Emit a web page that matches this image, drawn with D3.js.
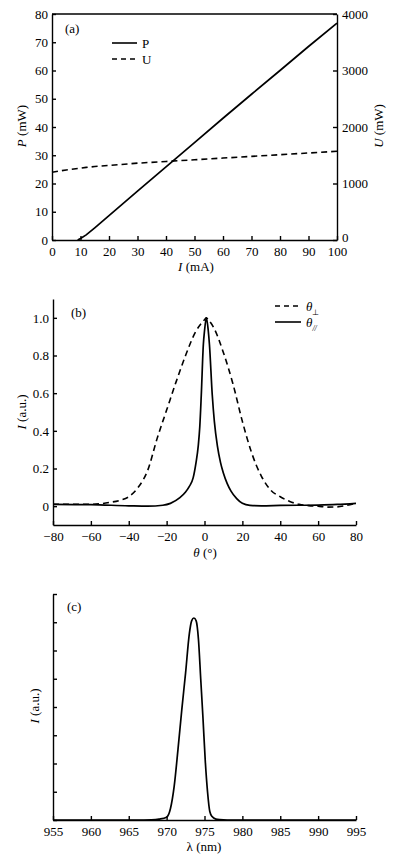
<!DOCTYPE html>
<html><head><meta charset="utf-8">
<script src="https://cdn.jsdelivr.net/npm/d3@7"></script>
<style>
body{margin:0;background:#fff;}
svg{display:block;font-family:"Liberation Serif","Times New Roman",serif;}
.tick text{font-size:13px;font-family:"Liberation Serif",serif;fill:#000;}
.domain,.tick line{stroke:#000;stroke-width:1.4px;}
</style></head><body>
<svg id="c" width="393" height="860"></svg>
<script>
// Panel (a)
const currentA = [0,5,9,10,12,15,20,30,40,50,60,70,80,90,100];
const powerP   = [null,null,0,0.5,1.8,4.3,8.6,17.3,25.9,34.5,43.1,51.6,60.0,68.5,76.8];
const voltageU = [1200,1240,1265,1270,1285,1300,1320,1360,1390,1420,1450,1480,1510,1540,1570];
const tickA_P = [0,10,20,30,40,50,60,70,80];
const tickA_U = [0,1000,2000,3000,4000];
const tickA_I = [0,10,20,30,40,50,60,70,80,90,100];

// Panel (b)
const thetaB = [-80,-70,-60,-50,-45,-40,-35,-30,-25,-20,-15,-10,-5,0,1,2,5,10,15,20,25,30,35,40,45,50,55,60,65,70,75,80];
const perpB  = [0.01,0.01,0.01,0.02,0.03,0.05,0.10,0.19,0.36,0.51,0.66,0.80,0.92,0.99,1.0,0.99,0.945,0.815,0.65,0.45,0.28,0.16,0.085,0.05,0.025,0.01,0.003,0.0,-0.005,-0.004,0.004,0.015];
const thetaPar = [-80,-60,-40,-30,-22,-18,-13,-10,-8,-6,-4.5,-3.3,-2.5,-1.7,-0.6,0,1,2,2.6,4.1,5.2,6.8,8.5,10,12,14,17,20,24,30,40,60,70,80];
const parB     = [0.01,0.008,0.002,0.0,0.005,0.015,0.045,0.075,0.105,0.15,0.23,0.32,0.42,0.59,0.86,0.93,1.0,0.93,0.86,0.59,0.45,0.32,0.23,0.175,0.12,0.08,0.04,0.015,0.004,0.002,0.004,0.006,0.009,0.015];
const tickB_I = [0,0.2,0.4,0.6,0.8,1.0];
const tickB_T = [-80,-60,-40,-20,0,20,40,60,80];

// Panel (c)
const lambdaC = [955,960,965,967,968,969,970,970.5,971,971.5,972,972.5,973,973.3,973.6,973.9,974.2,974.5,974.8,975.1,975.4,975.7,976,976.5,977,978,980,995];
const specC   = [0,0,0,0,0.005,0.03,0.1,0.4,1.2,2.5,3.9,5.2,6.6,7.05,7.15,7.05,6.4,5.0,3.6,2.1,1.0,0.3,0.12,0.03,0.01,0,0,0];
const tickC_I = [0,1,2,3,4,5,6,7,8];
const tickC_L = [955,960,965,970,975,980,985,990,995];

const svg = d3.select("#c");
const fmtMinus = d => (d<0?"\u2212"+Math.abs(d):""+d);

function styleAxis(g){ g.selectAll(".domain").attr("stroke","#000").attr("stroke-width",1.4); g.selectAll(".tick line").attr("stroke","#000").attr("stroke-width",1.4);}

// ---------- (a)
{
  const x = d3.scaleLinear().domain([0,100]).range([52,337]);
  const yP = d3.scaleLinear().domain([0,80]).range([240,14]);
  const yU = d3.scaleLinear().domain([0,4000]).range([240,14]);
  const g = svg.append("g");
  g.append("line").attr("x1",52).attr("x2",337).attr("y1",14).attr("y2",14).attr("stroke","#000").attr("stroke-width",1.4);
  g.append("g").attr("transform","translate(0,240)").call(d3.axisBottom(x).tickValues(tickA_I).tickSize(-4).tickSizeOuter(0).tickPadding(7)).call(styleAxis);
  g.append("g").attr("transform","translate(52,0)").call(d3.axisLeft(yP).tickValues(tickA_P).tickSize(-4).tickSizeOuter(0).tickPadding(4)).call(styleAxis);
  const ra = g.append("g").attr("transform","translate(337,0)").call(d3.axisRight(yU).tickValues(tickA_U).tickFormat(d3.format("d")).tickSize(-4).tickSizeOuter(0).tickPadding(5)).call(styleAxis);
  ra.selectAll(".tick text").filter(d=>d===0).attr("dy","0.1em");
  const dataP = currentA.map((c,i)=>[c,powerP[i]]).filter(d=>d[1]!==null);
  g.append("path").datum(dataP).attr("fill","none").attr("stroke","#000").attr("stroke-width",1.7)
    .attr("d",d3.line().x(d=>x(d[0])).y(d=>yP(d[1])));
  g.append("path").datum(currentA.map((c,i)=>[c,voltageU[i]])).attr("fill","none").attr("stroke","#000").attr("stroke-width",1.6).attr("stroke-dasharray","6,4")
    .attr("d",d3.line().x(d=>x(d[0])).y(d=>yU(d[1])));
  g.append("text").attr("x",65).attr("y",33).attr("font-size",13).text("(a)");
  g.append("line").attr("x1",112).attr("x2",137).attr("y1",43).attr("y2",43).attr("stroke","#000").attr("stroke-width",1.6);
  g.append("text").attr("x",142).attr("y",47.5).attr("font-size",13).text("P");
  g.append("line").attr("x1",112).attr("x2",137).attr("y1",59).attr("y2",59).attr("stroke","#000").attr("stroke-width",1.5).attr("stroke-dasharray","5,4");
  g.append("text").attr("x",142).attr("y",63.5).attr("font-size",13).text("U");
  const lt = g.append("text").attr("transform","translate(26,126) rotate(-90)").attr("text-anchor","middle").attr("font-size",13);
  lt.append("tspan").attr("font-style","italic").text("P"); lt.append("tspan").text(" (mW)");
  const rt = g.append("text").attr("transform","translate(383,126) rotate(-90)").attr("text-anchor","middle").attr("font-size",13);
  rt.append("tspan").attr("font-style","italic").text("U"); rt.append("tspan").text(" (mW)");
  const bt = g.append("text").attr("x",196).attr("y",271).attr("text-anchor","middle").attr("font-size",13);
  bt.append("tspan").attr("font-style","italic").text("I"); bt.append("tspan").text(" (mA)");
}

// ---------- (b)
{
  const x = d3.scaleLinear().domain([-80,80]).range([53,356]);
  const y = d3.scaleLinear().domain([-0.1,1.1]).range([525,299]);
  const g = svg.append("g");
  g.append("g").attr("transform","translate(0,525)").call(d3.axisBottom(x).tickValues(tickB_T).tickFormat(fmtMinus).tickSize(-4).tickSizeOuter(0).tickPadding(7)).call(styleAxis);
  g.append("g").attr("transform","translate(53,0)").call(d3.axisLeft(y).tickValues(tickB_I).tickFormat(d=>d===0?"0":d3.format(".1f")(d)).tickSize(-4).tickSizeOuter(0).tickPadding(4)).call(styleAxis);
  g.append("path").datum(thetaB.map((t,i)=>[t,perpB[i]])).attr("fill","none").attr("stroke","#000").attr("stroke-width",1.6).attr("stroke-dasharray","6,4")
    .attr("d",d3.line().curve(d3.curveMonotoneX).x(d=>x(d[0])).y(d=>y(d[1])));
  g.append("path").datum(thetaPar.map((t,i)=>[t,parB[i]])).attr("fill","none").attr("stroke","#000").attr("stroke-width",1.7)
    .attr("d",d3.line().curve(d3.curveMonotoneX).x(d=>x(d[0])).y(d=>y(d[1])));
  g.append("text").attr("x",71).attr("y",317).attr("font-size",13).text("(b)");
  g.append("line").attr("x1",275).attr("x2",301).attr("y1",306).attr("y2",306).attr("stroke","#000").attr("stroke-width",1.5).attr("stroke-dasharray","5,4");
  const l1 = g.append("text").attr("x",306).attr("y",310.5).attr("font-size",13);
  l1.append("tspan").attr("font-style","italic").text("θ"); l1.append("tspan").attr("font-size",8).attr("dy",4).text("⊥");
  g.append("line").attr("x1",275).attr("x2",301).attr("y1",322).attr("y2",322).attr("stroke","#000").attr("stroke-width",1.6);
  const l2 = g.append("text").attr("x",306).attr("y",326.5).attr("font-size",13);
  l2.append("tspan").attr("font-style","italic").text("θ"); l2.append("tspan").attr("font-size",8).attr("font-style","italic").attr("dy",4).text("//");
  const lt = g.append("text").attr("transform","translate(26,412) rotate(-90)").attr("text-anchor","middle").attr("font-size",13);
  lt.append("tspan").attr("font-style","italic").text("I"); lt.append("tspan").text(" (a.u.)");
  const bt = g.append("text").attr("x",205).attr("y",557).attr("text-anchor","middle").attr("font-size",13);
  bt.append("tspan").attr("font-style","italic").text("θ"); bt.append("tspan").text(" (°)");
}

// ---------- (c)
{
  const x = d3.scaleLinear().domain([955,995]).range([53,356]);
  const y = d3.scaleLinear().domain([0,8]).range([820,594]);
  const g = svg.append("g");
  g.append("g").attr("transform","translate(0,820)").call(d3.axisBottom(x).tickValues(tickC_L).tickSize(-4).tickSizeOuter(0).tickPadding(7)).call(styleAxis);
  g.append("g").attr("transform","translate(53,0)").call(d3.axisLeft(y).tickValues(tickC_I).tickFormat("").tickSize(-4).tickSizeOuter(0)).call(styleAxis);
  g.append("path").datum(lambdaC.map((l,i)=>[l,specC[i]])).attr("fill","none").attr("stroke","#000").attr("stroke-width",1.7)
    .attr("d",d3.line().curve(d3.curveMonotoneX).x(d=>x(d[0])).y(d=>y(d[1])));
  g.append("text").attr("x",67).attr("y",611).attr("font-size",13).text("(c)");
  const lt = g.append("text").attr("transform","translate(39,706) rotate(-90)").attr("text-anchor","middle").attr("font-size",13);
  lt.append("tspan").attr("font-style","italic").text("I"); lt.append("tspan").text(" (a.u.)");
  g.append("text").attr("x",204).attr("y",851).attr("text-anchor","middle").attr("font-size",13).text("λ (nm)");
}
</script></body></html>
